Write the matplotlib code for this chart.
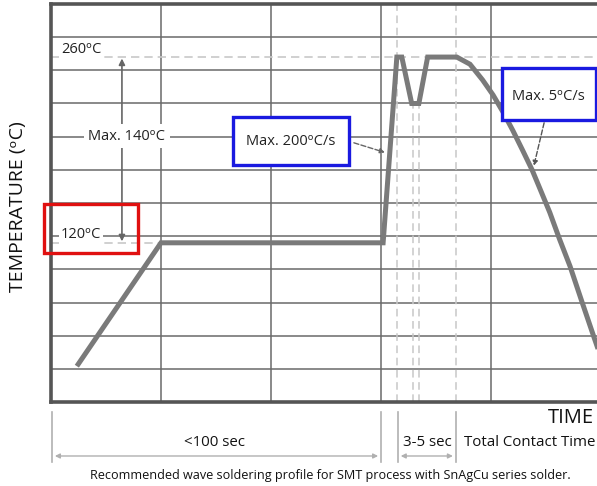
import matplotlib
matplotlib.use("Agg")
import matplotlib.pyplot as plt
from matplotlib.patches import Rectangle
import numpy as np

plt.rcParams['font.family'] = ['Open Sans', 'DejaVu Sans']

# Profile (time in arbitrary units, temperature in deg C)
profile_time = [4.7, 20.0, 60.4, 62.9, 63.8, 65.6, 66.9, 68.5, 73.8,
                76.2, 78.5, 80.4, 82.2, 84.0, 85.8, 87.5, 88.9, 90.7, 92.5, 94.4, 96.5, 98.5, 99.8]
profile_temp = [27, 120, 120, 260, 260, 225, 225, 260, 260,
                254.6, 242.7, 231.4, 218.6, 204.6, 189.5, 174.9, 161.0, 143.0, 122.6, 102.3, 76.3, 51.9, 36.2]

peak_temp = 260
preheat_temp = 120
time_grid = [20, 40, 60, 80]
temp_grid = np.arange(25, 300, 25)
dashed_times_full = [62.9, 73.6]
dashed_times_dip = [65.8, 66.9]

XMAX, YMAX = 99.3, 300

fig = plt.figure(figsize=(5.97, 4.86), dpi=100)
ax = fig.add_axes([51/597, 1-402/486, (597-51)/597, (402-4)/486])
ax.set_xlim(0, XMAX)
ax.set_ylim(0, YMAX)
ax.set_xticks([]); ax.set_yticks([])

grid_c = '#6a6a6a'
for t in temp_grid:
    ax.axhline(t, color=grid_c, lw=1.1, zorder=1)
for t in time_grid:
    ax.axvline(t, color=grid_c, lw=1.1, zorder=1)

# dashed reference lines
ax.axhline(peak_temp, color='#c8c8c8', lw=1.2, ls=(0, (5, 3)), zorder=1.5)
ax.plot([0, 20], [preheat_temp, preheat_temp], color='#c8c8c8', lw=1.2, ls=(0, (5, 3)), zorder=1.5)
for t in dashed_times_full:
    ax.axvline(t, color='#c8c8c8', lw=1.1, ls=(0, (5, 3)), zorder=1.5)
for t in dashed_times_dip:
    ax.plot([t, t], [0, 225], color='#c8c8c8', lw=1.1, ls=(0, (5, 3)), zorder=1.5)

for s in ['left', 'bottom', 'top']:
    ax.spines[s].set_linewidth(2.6)
    ax.spines[s].set_color('#555555')
ax.spines['right'].set_visible(False)

ax.plot(profile_time, profile_temp, color='#7a7a7a', lw=3.6, solid_joinstyle='miter',
        solid_capstyle='butt', zorder=3)

deg = '\u1d52'
fs = 10.5
# 260 label
ax.text(5.45, 266, f'260{deg}C', ha='center', va='center', fontsize=fs, color='#222222',
        bbox=dict(facecolor='white', edgecolor='none', pad=1.5), zorder=4)
# 120 label with red box
ax.text(5.45, 126.6, f'120{deg}C', ha='center', va='center', fontsize=fs, color='#222222',
        bbox=dict(facecolor='white', edgecolor='none', pad=1.5), zorder=4)
ax.add_patch(Rectangle((-1.27, 112), 17.1, 37, fill=False, edgecolor='#e01010', lw=2.4,
                       clip_on=False, zorder=5))
# double arrow
ax.annotate('', xy=(12.9, 261), xytext=(12.9, 119),
            arrowprops=dict(arrowstyle='<|-|>', color='#666666', lw=1.2, mutation_scale=9), zorder=4)
ax.text(13.8, 200.5, f'Max. 140{deg}C', ha='center', va='center', fontsize=fs, color='#222222',
        bbox=dict(facecolor='white', edgecolor='none', pad=3), zorder=5)
# blue box 1
ax.add_patch(Rectangle((33.1, 178.6), 21.1, 36.2, facecolor='white', edgecolor='#1a1ae0', lw=2.4,
                       zorder=5))
ax.text(43.6, 196.7, f'Max. 200{deg}C/s', ha='center', va='center', fontsize=fs, color='#222222', zorder=6)
ax.annotate('', xy=(61.2, 187.5), xytext=(54.6, 196),
            arrowprops=dict(arrowstyle='-|>', color='#666666', lw=1.0, ls='--', mutation_scale=7), zorder=6)
# blue box 2
ax.add_patch(Rectangle((82.0, 212.6), 17.1, 39.2, facecolor='white', edgecolor='#1a1ae0', lw=2.4,
                       zorder=5, clip_on=False))
ax.text(90.5, 230.6, f'Max. 5{deg}C/s', ha='center', va='center', fontsize=fs, color='#222222', zorder=6)
ax.annotate('', xy=(87.7, 176), xytext=(89.8, 212.5),
            arrowprops=dict(arrowstyle='-|>', color='#555555', lw=1.0, ls='--', mutation_scale=7), zorder=6)

# below-axis dimension marks
dim_c = '#b0b0b0'
for t in [0.2, 60.0, 63.1, 73.6]:
    ax.plot([t, t], [-7.5, -45], color=dim_c, lw=1.2, clip_on=False)
ax.annotate('', xy=(0.2, -40.7), xytext=(60.0, -40.7), annotation_clip=False,
            arrowprops=dict(arrowstyle='<|-|>', color=dim_c, lw=1.0, mutation_scale=7))
ax.annotate('', xy=(63.1, -40.7), xytext=(73.6, -40.7), annotation_clip=False,
            arrowprops=dict(arrowstyle='<|-|>', color=dim_c, lw=1.0, mutation_scale=7))
fs2 = 10.8
ax.text(29.8, -30.5, '<100 sec', ha='center', va='center', fontsize=fs2, color='#111111', clip_on=False)
ax.text(68.4, -30.5, '3-5 sec', ha='center', va='center', fontsize=fs2, color='#111111', clip_on=False)
ax.text(75.1, -30.5, 'Total Contact Time', ha='left', va='center', fontsize=fs2, color='#111111', clip_on=False)
ax.text(98.7, -12, 'TIME', ha='right', va='center', fontsize=14.5, color='#111111', clip_on=False)

fig.text(18/597, 1-207/486, f'TEMPERATURE ({deg}C)', rotation=90, ha='center', va='center',
         fontsize=14, color='#111111')
fig.text(330/597, 1-475/486, 'Recommended wave soldering profile for SMT process with SnAgCu series solder.',
         ha='center', va='center', fontsize=9.1, color='#111111')

fig.savefig('out.png', dpi=100)
